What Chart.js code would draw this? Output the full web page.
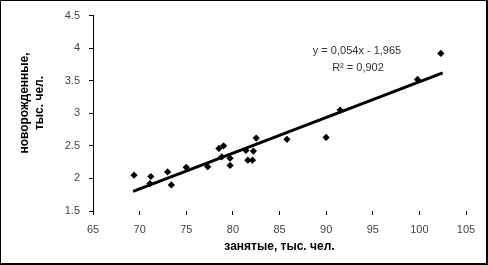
<!DOCTYPE html>
<html>
<head>
<meta charset="utf-8">
<script src="https://cdn.jsdelivr.net/npm/chart.js@4/dist/chart.umd.min.js"></script>
<style>
html,body{margin:0;padding:0;background:#fff;}
#wrap{width:488px;height:265px;position:relative;}
</style>
</head>
<body>
<div id="wrap"><canvas id="c" width="488" height="265"></canvas></div>
<script>
// Data
const employedX = [69.4, 71.2, 71.1, 73.0, 73.4, 75.0, 77.3, 78.5, 79.0, 78.8, 79.7, 79.7, 81.4, 81.6, 82.1, 82.2, 82.5, 85.8, 90.0, 91.5, 99.8, 102.3];
const newbornY  = [2.05, 2.03, 1.92, 2.10, 1.90, 2.17, 2.18, 2.46, 2.50, 2.33, 2.31, 2.20, 2.43, 2.28, 2.28, 2.42, 2.62, 2.60, 2.63, 3.05, 3.52, 3.92];
const trendX = [69.3, 102.5];
const trendY = [1.80, 3.62];
const xTicks = [65, 70, 75, 80, 85, 90, 95, 100, 105];
const yTicks = [1.5, 2, 2.5, 3, 3.5, 4, 4.5];
const xTitle = 'занятые, тыс. чел.';
const yTitle = ['новорожденные,', 'тыс. чел.'];
const equationText = ['y = 0,054x - 1,965', 'R² = 0,902'];

const points = employedX.map((x, i) => ({x: x, y: newbornY[i]}));
const trend = trendX.map((x, i) => ({x: x, y: trendY[i]}));

const FONT = "'Liberation Sans', Arial, sans-serif";

const extras = {
  id: 'extras',
  afterDraw(chart) {
    const ctx = chart.ctx;
    const ca = chart.chartArea;
    ctx.save();
    // equation
    ctx.fillStyle = '#333';
    ctx.font = '11px ' + FONT;
    ctx.textAlign = 'center';
    ctx.textBaseline = 'middle';
    ctx.fillText(equationText[0], ca.left + 264, ca.top + 35);
    ctx.fillText(equationText[1], ca.left + 265, ca.top + 52);
    // y title
    ctx.fillStyle = '#000';
    ctx.font = 'bold 12px ' + FONT;
    ctx.translate(25, 103);
    ctx.rotate(-Math.PI / 2);
    ctx.fillText(yTitle[0], 0, 0);
    ctx.fillText(yTitle[1], 0, 15);
    ctx.restore();
    // outer frame
    ctx.save();
    ctx.strokeStyle = '#000';
    ctx.lineWidth = 1;
    ctx.beginPath();
    ctx.moveTo(0.5, 264); ctx.lineTo(0.5, 0.5); ctx.lineTo(487, 0.5);
    ctx.stroke();
    ctx.lineWidth = 2;
    ctx.beginPath();
    ctx.moveTo(487, 0); ctx.lineTo(487, 264); ctx.lineTo(0, 264);
    ctx.stroke();
    ctx.restore();
  }
};

new Chart(document.getElementById('c'), {
  type: 'scatter',
  data: {
    datasets: [
      {
        label: 'data',
        data: points,
        pointStyle: 'rectRot',
        pointRadius: 3.6,
        backgroundColor: '#000',
        borderColor: '#000',
        borderWidth: 0,
        order: 1
      },
      {
        label: 'trend',
        type: 'line',
        data: trend,
        borderColor: '#000',
        borderWidth: 3,
        pointRadius: 0,
        fill: false,
        order: 2
      }
    ]
  },
  options: {
    responsive: false,
    animation: false,
    locale: 'en-US',
    events: [],
    layout: {padding: {top: 15, right: 22, left: 0, bottom: 0}},
    plugins: {legend: {display: false}, tooltip: {enabled: false}},
    scales: {
      x: {
        type: 'linear',
        min: 65, max: 105,
        afterBuildTicks: (s) => { s.ticks = xTicks.map(v => ({value: v})); },
        afterFit: (s) => { s.height = 54; },
        grid: {display: true, drawOnChartArea: false, drawTicks: true, tickLength: 4, color: '#000'},
        border: {display: false},
        ticks: {color: '#444', font: {family: FONT, size: 11}, padding: 8, maxRotation: 0, callback: (v) => String(v)},
        title: {display: true, text: xTitle, color: '#000', font: {family: FONT, size: 12, weight: 'bold'}, padding: {top: 0, bottom: 11}}
      },
      y: {
        type: 'linear',
        min: 1.5, max: 4.5,
        afterBuildTicks: (s) => { s.ticks = yTicks.map(v => ({value: v})); },
        afterFit: (s) => { s.width = 93; },
        grid: {display: true, drawOnChartArea: false, drawTicks: true, tickLength: 4, color: '#000'},
        border: {display: true, color: '#000', width: 1},
        ticks: {color: '#444', font: {family: FONT, size: 11}, padding: 9, callback: (v) => String(v)}
      }
    }
  },
  plugins: [extras]
});
</script>
</body>
</html>
